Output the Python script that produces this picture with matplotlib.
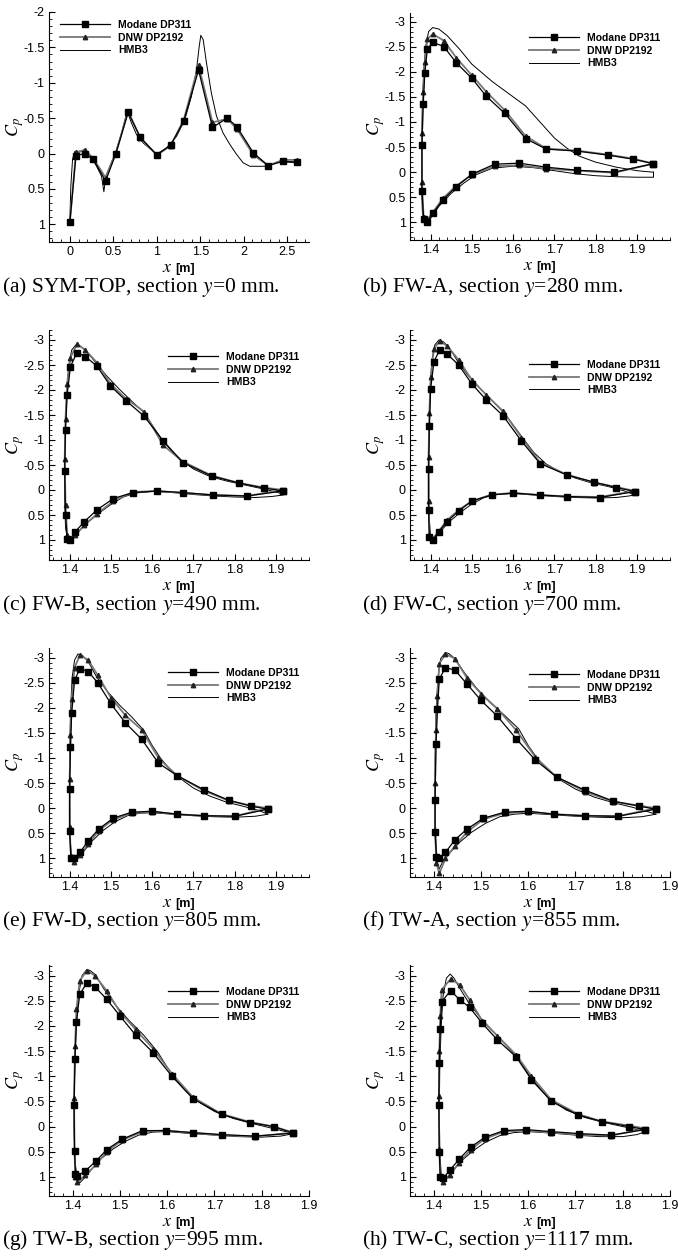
import matplotlib.pyplot as plt
from matplotlib.ticker import MultipleLocator, FuncFormatter

plt.rcParams['font.family'] = ['Liberation Sans', 'DejaVu Sans']
plt.rcParams['mathtext.fontset'] = 'stix'

W, H = 678, 1259

# ---- (a) SYM-TOP ----
a_mod_x = [0.0, 0.07, 0.17, 0.27, 0.41, 0.53, 0.67, 0.81, 1.0, 1.16, 1.31, 1.48, 1.64, 1.81, 1.92, 2.11, 2.28, 2.45, 2.61]
a_mod_cp = [0.97, 0.03, 0.0, 0.08, 0.39, 0.0, -0.58, -0.23, 0.02, -0.12, -0.46, -1.18, -0.37, -0.50, -0.38, -0.01, 0.17, 0.11, 0.12]
a_dnw_x = a_mod_x
a_dnw_cp = [0.97, -0.02, -0.05, 0.07, 0.34, -0.01, -0.60, -0.22, 0.02, -0.11, -0.48, -1.25, -0.44, -0.49, -0.35, 0.02, 0.17, 0.09, 0.09]
a_hmb_x = [0.0, 0.011, 0.031, 0.057, 0.115, 0.172, 0.23, 0.307, 0.364, 0.391, 0.414, 0.46, 0.529, 0.594, 0.659, 0.709,
           0.766, 0.843, 0.996, 1.111, 1.226, 1.322, 1.398, 1.456, 1.487, 1.506, 1.533, 1.571, 1.628, 1.686, 1.762,
           1.839, 1.916, 1.992, 2.069, 2.184, 2.28, 2.375, 2.49, 2.605]
a_hmb_cp = [0.95, 0.46, 0.08, -0.03, -0.02, -0.06, 0.02, 0.18, 0.32, 0.54, 0.32, 0.18, -0.03, -0.29, -0.60, -0.43,
            -0.27, -0.15, 0.01, -0.08, -0.24, -0.48, -0.81, -1.18, -1.51, -1.67, -1.61, -1.28, -0.85, -0.53, -0.29,
            -0.13, 0.01, 0.13, 0.18, 0.18, 0.18, 0.13, 0.12, 0.13]

# ---- (b) FW-A ----
b_mod_x = [1.94, 1.89, 1.83, 1.755, 1.68, 1.63, 1.58, 1.535, 1.50, 1.462, 1.432, 1.405, 1.392, 1.386, 1.382, 1.379,
           1.379, 1.383, 1.39, 1.405, 1.43, 1.462, 1.50, 1.555, 1.615, 1.68, 1.755, 1.845, 1.94]
b_mod_cp = [-0.17, -0.26, -0.34, -0.42, -0.46, -0.67, -1.17, -1.51, -1.87, -2.18, -2.50, -2.59, -2.45, -1.98, -1.35,
            -0.54, 0.37, 0.93, 1.0, 0.82, 0.55, 0.29, 0.04, -0.16, -0.18, -0.10, -0.04, 0.0, -0.17]
b_dnw_x = b_mod_x
b_dnw_cp = [-0.17, -0.27, -0.35, -0.43, -0.47, -0.72, -1.23, -1.60, -1.93, -2.28, -2.62, -2.75, -2.65, -2.20, -1.60,
            -0.78, 0.20, 0.90, 0.98, 0.80, 0.52, 0.27, 0.05, -0.12, -0.14, -0.07, -0.03, 0.01, -0.17]
b_hmb_x = [1.94, 1.90, 1.85, 1.80, 1.76, 1.73, 1.70, 1.665, 1.63, 1.60, 1.58, 1.55, 1.50, 1.47, 1.44, 1.42, 1.405,
           1.395, 1.388, 1.383, 1.38, 1.378, 1.378, 1.38, 1.385, 1.392, 1.40, 1.42, 1.45, 1.48, 1.51, 1.55, 1.60,
           1.65, 1.70, 1.75, 1.80, 1.85, 1.90, 1.94, 1.94]
b_hmb_cp = [0.0, -0.03, -0.1, -0.2, -0.32, -0.48, -0.68, -1.0, -1.32, -1.50, -1.62, -1.80, -2.15, -2.45, -2.72, -2.85,
            -2.88, -2.80, -2.50, -2.00, -1.30, -0.50, 0.30, 0.80, 1.00, 1.02, 0.92, 0.68, 0.42, 0.22, 0.05, -0.08,
            -0.12, -0.09, -0.03, 0.03, 0.07, 0.09, 0.10, 0.10, 0.0]

# ---- (c) FW-B ----
c_mod_x = [1.917, 1.87, 1.81, 1.744, 1.674, 1.626, 1.58, 1.536, 1.498, 1.466, 1.438, 1.418, 1.402, 1.394, 1.39,
           1.388, 1.39, 1.394, 1.40, 1.414, 1.436, 1.466, 1.506, 1.554, 1.612, 1.674, 1.748, 1.83, 1.917]
c_mod_cp = [0.02, -0.04, -0.14, -0.28, -0.55, -0.99, -1.48, -1.79, -2.09, -2.48, -2.67, -2.75, -2.47, -1.91, -1.20,
            -0.39, 0.50, 0.97, 1.0, 0.83, 0.63, 0.40, 0.17, 0.05, 0.02, 0.05, 0.10, 0.12, 0.02]
c_dnw_x = c_mod_x
c_dnw_cp = [0.0, -0.05, -0.14, -0.29, -0.57, -0.90, -1.57, -1.83, -2.13, -2.55, -2.80, -2.92, -2.65, -2.13, -1.42,
            -0.62, 0.30, 0.90, 0.98, 0.90, 0.70, 0.48, 0.22, 0.04, 0.02, 0.06, 0.10, 0.12, 0.0]
c_hmb_x = [1.917, 1.90, 1.87, 1.83, 1.78, 1.74, 1.70, 1.67, 1.64, 1.62, 1.60, 1.58, 1.55, 1.52, 1.49, 1.46, 1.44,
           1.425, 1.415, 1.405, 1.398, 1.393, 1.39, 1.388, 1.388, 1.39, 1.395, 1.40, 1.41, 1.425, 1.445, 1.47, 1.50,
           1.53, 1.56, 1.60, 1.65, 1.70, 1.75, 1.80, 1.85, 1.89, 1.917]
c_hmb_cp = [0.08, 0.04, -0.02, -0.09, -0.18, -0.27, -0.42, -0.60, -0.85, -1.05, -1.30, -1.55, -1.78, -2.02, -2.28,
            -2.58, -2.78, -2.88, -2.90, -2.80, -2.50, -2.00, -1.40, -0.60, 0.20, 0.75, 1.00, 1.02, 0.95, 0.80, 0.64,
            0.47, 0.29, 0.14, 0.06, 0.03, 0.05, 0.09, 0.12, 0.14, 0.15, 0.13, 0.10]

# ---- (d) FW-C ----
d_mod_x = [1.895, 1.85, 1.795, 1.73, 1.665, 1.62, 1.575, 1.535, 1.50, 1.468, 1.44, 1.422, 1.408, 1.40, 1.397, 1.395,
           1.395, 1.397, 1.405, 1.42, 1.44, 1.468, 1.50, 1.548, 1.60, 1.665, 1.73, 1.81, 1.895]
d_mod_cp = [0.03, -0.05, -0.16, -0.30, -0.53, -0.98, -1.49, -1.80, -2.12, -2.50, -2.72, -2.80, -2.57, -2.02, -1.28,
            -0.42, 0.40, 0.93, 1.0, 0.83, 0.63, 0.42, 0.22, 0.10, 0.06, 0.10, 0.13, 0.15, 0.03]
d_dnw_x = d_mod_x
d_dnw_cp = [0.02, -0.06, -0.15, -0.31, -0.55, -1.05, -1.58, -1.90, -2.20, -2.60, -2.88, -2.98, -2.82, -2.27, -1.55,
            -0.67, 0.22, 0.90, 0.98, 0.82, 0.60, 0.40, 0.22, 0.09, 0.06, 0.10, 0.13, 0.14, 0.02]
d_hmb_x = [1.895, 1.87, 1.83, 1.79, 1.75, 1.71, 1.68, 1.65, 1.625, 1.60, 1.58, 1.55, 1.52, 1.49, 1.465, 1.445, 1.43,
           1.42, 1.41, 1.403, 1.399, 1.396, 1.395, 1.396, 1.40, 1.405, 1.415, 1.43, 1.45, 1.475, 1.50, 1.53, 1.56,
           1.60, 1.65, 1.70, 1.75, 1.80, 1.85, 1.88, 1.895]
d_hmb_cp = [0.10, 0.02, -0.07, -0.14, -0.24, -0.38, -0.52, -0.75, -1.02, -1.30, -1.52, -1.78, -2.03, -2.30, -2.58,
            -2.85, -2.97, -3.00, -2.90, -2.60, -2.00, -1.20, -0.30, 0.50, 0.95, 1.02, 0.92, 0.77, 0.60, 0.43, 0.28,
            0.15, 0.09, 0.07, 0.10, 0.13, 0.15, 0.16, 0.15, 0.12, 0.10]

# ---- (e) FW-D ----
e_mod_x = [1.88, 1.84, 1.785, 1.725, 1.66, 1.615, 1.575, 1.535, 1.50, 1.468, 1.445, 1.425, 1.412, 1.405, 1.402, 1.40,
           1.40, 1.403, 1.41, 1.425, 1.445, 1.47, 1.505, 1.55, 1.60, 1.66, 1.725, 1.80, 1.88]
e_mod_cp = [0.02, -0.04, -0.16, -0.37, -0.65, -0.90, -1.37, -1.70, -2.08, -2.50, -2.72, -2.78, -2.55, -1.90, -1.22,
            -0.38, 0.45, 0.99, 1.0, 0.88, 0.65, 0.42, 0.20, 0.08, 0.06, 0.12, 0.15, 0.16, 0.02]
e_dnw_x = e_mod_x
e_dnw_cp = [0.0, -0.05, -0.15, -0.35, -0.65, -1.00, -1.56, -1.85, -2.20, -2.65, -2.95, -3.05, -2.80, -2.18, -1.45,
            -0.58, 0.38, 0.95, 1.07, 0.93, 0.72, 0.45, 0.23, 0.10, 0.07, 0.12, 0.15, 0.16, 0.0]
e_hmb_x = [1.88, 1.86, 1.82, 1.78, 1.74, 1.70, 1.67, 1.64, 1.62, 1.60, 1.58, 1.55, 1.52, 1.49, 1.465, 1.445, 1.43,
           1.42, 1.412, 1.406, 1.402, 1.40, 1.40, 1.401, 1.405, 1.412, 1.42, 1.435, 1.455, 1.48, 1.51, 1.54, 1.57,
           1.60, 1.65, 1.70, 1.75, 1.80, 1.85, 1.88]
e_hmb_cp = [0.12, 0.05, -0.04, -0.12, -0.24, -0.40, -0.58, -0.80, -1.00, -1.25, -1.55, -1.82, -2.06, -2.34, -2.62,
            -2.92, -3.05, -3.07, -2.95, -2.60, -1.90, -1.00, -0.10, 0.60, 0.98, 1.08, 1.00, 0.85, 0.65, 0.45, 0.27,
            0.15, 0.10, 0.09, 0.12, 0.15, 0.17, 0.18, 0.16, 0.12]

# ---- (f) TW-A ----
f_mod_x = [1.87, 1.835, 1.78, 1.72, 1.66, 1.615, 1.575, 1.535, 1.50, 1.47, 1.445, 1.425, 1.412, 1.408, 1.405, 1.403,
           1.403, 1.406, 1.412, 1.425, 1.445, 1.47, 1.505, 1.55, 1.60, 1.655, 1.72, 1.79, 1.87]
f_mod_cp = [0.02, -0.04, -0.14, -0.36, -0.62, -0.96, -1.38, -1.83, -2.15, -2.48, -2.75, -2.80, -2.57, -1.97, -1.28,
            -0.16, 0.48, 0.97, 1.0, 0.88, 0.63, 0.42, 0.20, 0.08, 0.06, 0.12, 0.15, 0.16, 0.02]
f_dnw_x = f_mod_x
f_dnw_cp = [0.0, -0.05, -0.13, -0.33, -0.62, -1.02, -1.55, -1.98, -2.28, -2.60, -2.98, -3.07, -2.88, -2.23, -1.55,
            -0.50, 0.47, 1.10, 1.30, 1.00, 0.75, 0.48, 0.22, 0.10, 0.07, 0.12, 0.15, 0.16, 0.0]
f_hmb_x = [1.87, 1.85, 1.82, 1.78, 1.74, 1.70, 1.67, 1.64, 1.62, 1.60, 1.58, 1.55, 1.52, 1.49, 1.465, 1.445, 1.432,
           1.425, 1.415, 1.409, 1.405, 1.403, 1.403, 1.405, 1.408, 1.411, 1.42, 1.435, 1.455, 1.48, 1.51, 1.54, 1.57,
           1.60, 1.65, 1.70, 1.75, 1.80, 1.84, 1.87]
f_hmb_cp = [0.12, 0.06, -0.02, -0.11, -0.22, -0.38, -0.55, -0.78, -0.98, -1.25, -1.58, -1.85, -2.10, -2.40, -2.70,
            -2.98, -3.08, -3.10, -2.98, -2.60, -1.90, -1.00, 0.00, 0.70, 1.10, 1.22, 1.05, 0.88, 0.68, 0.48, 0.30,
            0.17, 0.12, 0.10, 0.13, 0.16, 0.18, 0.19, 0.17, 0.12]

# ---- (g) TW-B ----
g_mod_x = [1.867, 1.825, 1.775, 1.715, 1.655, 1.61, 1.57, 1.533, 1.50, 1.472, 1.447, 1.43, 1.415, 1.408, 1.405, 1.403,
           1.404, 1.406, 1.41, 1.427, 1.45, 1.472, 1.505, 1.548, 1.597, 1.655, 1.715, 1.785, 1.867]
g_mod_cp = [0.13, 0.0, -0.08, -0.24, -0.55, -1.00, -1.47, -1.82, -2.20, -2.53, -2.78, -2.85, -2.63, -2.07, -1.35,
            -0.42, 0.48, 0.95, 0.98, 0.88, 0.68, 0.46, 0.25, 0.08, 0.08, 0.12, 0.16, 0.19, 0.13]
g_dnw_x = g_mod_x
g_dnw_cp = [0.12, 0.0, -0.09, -0.25, -0.58, -1.05, -1.55, -1.93, -2.28, -2.70, -3.00, -3.10, -2.90, -2.33, -1.60,
            -0.57, 0.47, 1.00, 1.10, 0.97, 0.75, 0.50, 0.27, 0.10, 0.08, 0.13, 0.17, 0.20, 0.12]
g_hmb_x = [1.867, 1.85, 1.82, 1.78, 1.74, 1.70, 1.67, 1.64, 1.62, 1.60, 1.58, 1.55, 1.52, 1.49, 1.465, 1.448, 1.437,
           1.43, 1.42, 1.412, 1.407, 1.404, 1.403, 1.405, 1.41, 1.415, 1.425, 1.44, 1.46, 1.485, 1.51, 1.54, 1.57,
           1.60, 1.65, 1.70, 1.75, 1.80, 1.84, 1.867]
g_hmb_cp = [0.14, 0.10, 0.03, -0.06, -0.16, -0.30, -0.47, -0.70, -0.92, -1.18, -1.48, -1.82, -2.10, -2.42, -2.75,
            -3.02, -3.10, -3.12, -3.00, -2.60, -1.90, -1.00, 0.00, 0.70, 1.05, 1.12, 1.02, 0.85, 0.64, 0.45, 0.30,
            0.17, 0.11, 0.10, 0.14, 0.17, 0.20, 0.21, 0.19, 0.14]

# ---- (h) TW-C ----
h_mod_x = [1.848, 1.813, 1.756, 1.705, 1.649, 1.607, 1.575, 1.535, 1.503, 1.476, 1.455, 1.436, 1.417, 1.414, 1.412,
           1.411, 1.412, 1.414, 1.42, 1.434, 1.454, 1.478, 1.509, 1.549, 1.595, 1.648, 1.708, 1.776, 1.848]
h_mod_cp = [0.06, 0.0, -0.10, -0.23, -0.50, -0.93, -1.38, -1.72, -2.05, -2.37, -2.52, -2.70, -2.48, -1.93, -1.26,
            -0.42, 0.50, 1.0, 1.03, 0.87, 0.65, 0.41, 0.21, 0.08, 0.06, 0.10, 0.14, 0.17, 0.06]
h_dnw_x = h_mod_x
h_dnw_cp = [0.04, -0.02, -0.10, -0.25, -0.53, -1.00, -1.42, -1.80, -2.10, -2.52, -2.82, -2.93, -2.72, -2.20, -1.50,
            -0.60, 0.45, 1.0, 1.10, 0.97, 0.72, 0.46, 0.24, 0.10, 0.08, 0.12, 0.16, 0.18, 0.04]
h_hmb_x = [1.848, 1.83, 1.80, 1.76, 1.72, 1.68, 1.65, 1.625, 1.60, 1.58, 1.56, 1.53, 1.50, 1.475, 1.455, 1.443, 1.435,
           1.427, 1.42, 1.416, 1.413, 1.412, 1.413, 1.416, 1.42, 1.428, 1.44, 1.46, 1.485, 1.51, 1.54, 1.57, 1.60,
           1.65, 1.70, 1.75, 1.80, 1.83, 1.848]
h_hmb_cp = [0.10, 0.06, 0.00, -0.08, -0.18, -0.33, -0.52, -0.75, -1.05, -1.35, -1.55, -1.85, -2.15, -2.45, -2.75,
            -2.95, -3.03, -2.95, -2.60, -2.00, -1.20, -0.30, 0.50, 0.95, 1.10, 1.02, 0.88, 0.67, 0.47, 0.31, 0.18,
            0.12, 0.10, 0.13, 0.17, 0.20, 0.20, 0.16, 0.10]

labels = ['Modane DP311', 'DNW DP2192', 'HMB3']
captions = ['(a) SYM-TOP, section $y$=0 mm.', '(b) FW-A, section $y$=280 mm.',
            '(c) FW-B, section $y$=490 mm.', '(d) FW-C, section $y$=700 mm.',
            '(e) FW-D, section $y$=805 mm.', '(f) TW-A, section $y$=855 mm.',
            '(g) TW-B, section $y$=995 mm.', '(h) TW-C, section $y$=1117 mm.']

# layout in pixels: left, top, right, bottom of each axes
panels = [
    dict(d=(a_mod_x, a_mod_cp, a_dnw_x, a_dnw_cp, a_hmb_x, a_hmb_cp), box=(49, 12, 309, 242),
         xlim=(-0.24, 2.75), ylim=(1.25, -2.0), xmaj=0.5, xmin=0.1, leg=(0.042, 0.965), cap=(2, 287)),
    dict(d=(b_mod_x, b_mod_cp, b_dnw_x, b_dnw_cp, b_hmb_x, b_hmb_cp), box=(410, 13, 670, 240),
         xlim=(1.35, 1.98), ylim=(1.35, -3.17), xmaj=0.1, xmin=0.02, leg=(0.458, 0.912), cap=(362, 287)),
    dict(d=(c_mod_x, c_mod_cp, c_dnw_x, c_dnw_cp, c_hmb_x, c_hmb_cp), box=(49, 330, 309, 560),
         xlim=(1.35, 1.98), ylim=(1.4, -3.2), xmaj=0.1, xmin=0.02, leg=(0.458, 0.904), cap=(2, 605)),
    dict(d=(d_mod_x, d_mod_cp, d_dnw_x, d_dnw_cp, d_hmb_x, d_hmb_cp), box=(410, 330, 670, 560),
         xlim=(1.35, 1.98), ylim=(1.4, -3.2), xmaj=0.1, xmin=0.02, leg=(0.458, 0.87), cap=(362, 605)),
    dict(d=(e_mod_x, e_mod_cp, e_dnw_x, e_dnw_cp, e_hmb_x, e_hmb_cp), box=(49, 648, 309, 877),
         xlim=(1.35, 1.98), ylim=(1.37, -3.19), xmaj=0.1, xmin=0.02, leg=(0.458, 0.913), cap=(2, 921)),
    dict(d=(f_mod_x, f_mod_cp, f_dnw_x, f_dnw_cp, f_hmb_x, f_hmb_cp), box=(410, 648, 670, 877),
         xlim=(1.35, 1.9), ylim=(1.37, -3.19), xmaj=0.1, xmin=0.02, leg=(0.458, 0.904), cap=(362, 921)),
    dict(d=(g_mod_x, g_mod_cp, g_dnw_x, g_dnw_cp, g_hmb_x, g_hmb_cp), box=(49, 965, 309, 1196),
         xlim=(1.35, 1.9), ylim=(1.38, -3.21), xmaj=0.1, xmin=0.02, leg=(0.458, 0.905), cap=(2, 1240)),
    dict(d=(h_mod_x, h_mod_cp, h_dnw_x, h_dnw_cp, h_hmb_x, h_hmb_cp), box=(410, 965, 670, 1196),
         xlim=(1.35, 1.9), ylim=(1.38, -3.21), xmaj=0.1, xmin=0.02, leg=(0.458, 0.905), cap=(362, 1240)),
]

DNW_GREY = '#777777'


def fmt(v, _):
    v = round(v, 3)
    if abs(v) < 1e-9:
        return '0'
    return '{:g}'.format(v)


fig = plt.figure(figsize=(W / 100, H / 100), dpi=100)

for p, cap in zip(panels, captions):
    l, t, r, b = p['box']
    ax = fig.add_axes([l / W, 1 - b / H, (r - l) / W, (b - t) / H])
    mx, mcp, dx, dcp, hx, hcp = p['d']

    # model line first, then wind tunnel data on top
    h3, = ax.plot(hx, hcp, color='black', lw=0.7, zorder=2)
    h2, = ax.plot(dx, dcp, color=DNW_GREY, lw=1.3, marker='^', ms=3.2,
                  mfc='#222222', mec='#222222', zorder=3)
    h1, = ax.plot(mx, mcp, color='black', lw=0.9, marker='s', ms=3.8, zorder=4)

    ax.set_xlim(*p['xlim'])
    ax.set_ylim(*p['ylim'])
    for s in ['top', 'right']:
        ax.spines[s].set_visible(False)
    for s in ['left', 'bottom']:
        ax.spines[s].set_linewidth(0.8)

    ax.xaxis.set_major_locator(MultipleLocator(p['xmaj']))
    ax.xaxis.set_minor_locator(MultipleLocator(p['xmin']))
    ax.yaxis.set_major_locator(MultipleLocator(0.5))
    ax.yaxis.set_minor_locator(MultipleLocator(0.1))
    ax.xaxis.set_major_formatter(FuncFormatter(fmt))
    ax.yaxis.set_major_formatter(FuncFormatter(fmt))
    ax.tick_params(which='both', direction='in', top=False, right=False, labelsize=9, pad=3)
    ax.tick_params(which='major', length=4.5, width=0.8)
    ax.tick_params(which='minor', length=2.5, width=0.6)

    ax.text(-0.13, 0.5, '$C_p$', rotation=90, ha='center', va='center', fontsize=13,
            transform=ax.transAxes)
    # axis title just under the tick labels
    ax.text(0.475, -0.132, '$x$', ha='right', va='baseline', fontsize=13, transform=ax.transAxes)
    ax.text(0.487, -0.132, '[m]', ha='left', va='baseline', fontsize=9, fontweight='bold',
            transform=ax.transAxes)

    ax.legend([h1, h2, h3], labels, loc='upper left', bbox_to_anchor=p['leg'], frameon=False,
              borderpad=0, borderaxespad=0, handlelength=4.8, handletextpad=0.8, labelspacing=0.25,
              numpoints=1, prop=dict(family='Liberation Sans', weight='bold', size=7.5))

    cx, cy = p['cap']
    fig.text(cx / W, 1 - cy / H, cap, family='Liberation Serif', fontsize=15.5, ha='left', va='center')

fig.savefig('out.png', dpi=100)
